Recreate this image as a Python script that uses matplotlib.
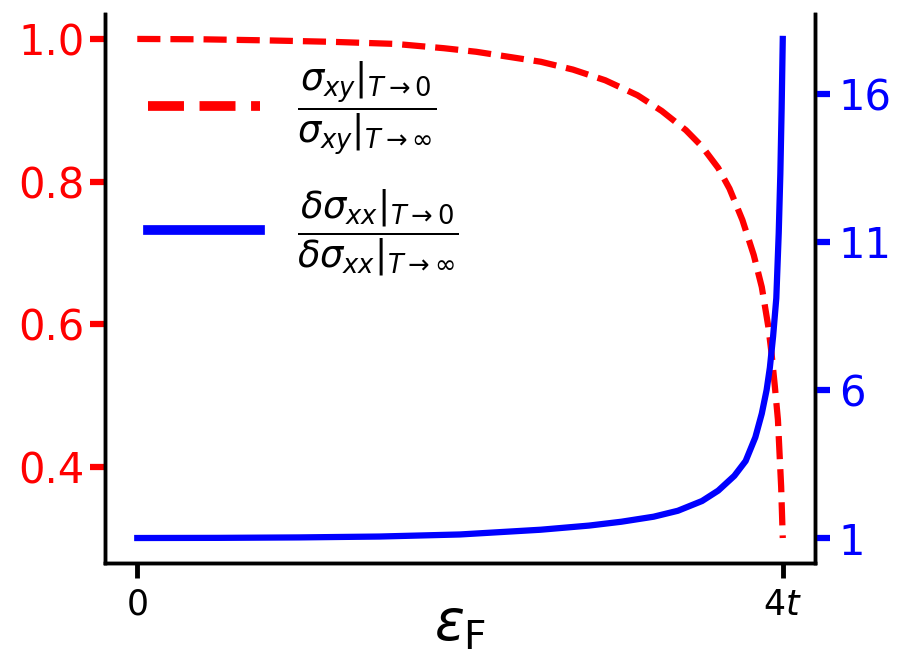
import matplotlib
matplotlib.use("Agg")
from matplotlib import pyplot as plt

# red curve: sigma_xy ratio (left axis)
eps_xy = [0.0, 0.4, 0.8, 1.2, 1.6, 1.9, 2.1, 2.3, 2.5, 2.7, 2.9, 3.1, 3.25,
          3.4, 3.5, 3.6, 3.67, 3.75, 3.82, 3.87, 3.91, 3.93, 3.95, 3.97,
          3.99, 4.0]
ratio_xy = [1.0, 0.9995, 0.998, 0.996, 0.993, 0.987, 0.982, 0.975, 0.968,
            0.957, 0.942, 0.921, 0.899, 0.872, 0.849, 0.819, 0.790, 0.746,
            0.697, 0.652, 0.597, 0.560, 0.515, 0.466, 0.372, 0.30]

# blue curve: delta sigma_xx ratio (right axis)
eps_xx = [0.0, 0.5, 1.0, 1.5, 2.0, 2.5, 2.8, 3.0, 3.2, 3.35, 3.5, 3.6, 3.7,
          3.77, 3.83, 3.87, 3.9, 3.92, 3.94, 3.96, 3.975, 3.985, 3.993, 4.0]
ratio_xx = [1.0, 1.005, 1.02, 1.05, 1.12, 1.28, 1.42, 1.55, 1.72, 1.92, 2.25,
            2.6, 3.1, 3.6, 4.4, 5.2, 6.0, 6.75, 7.8, 9.1, 11.3, 13.3, 15.5,
            17.85]

left_ticks = [0.4, 0.6, 0.8, 1.0]
right_ticks = [1, 6, 11, 16]
x_ticks = [0, 4]
x_ticklabels = ["0", r"$4t$"]

label_xy = r"$\dfrac{\sigma_{xy}|_{T\to 0}}{\sigma_{xy}|_{T\to\infty}}$"
label_xx = r"$\dfrac{\delta\sigma_{xx}|_{T\to 0}}{\delta\sigma_{xx}|_{T\to\infty}}$"


def main():
    fig = plt.figure(figsize=(9.06, 6.66), dpi=100)
    ax = fig.add_axes([0.1159, 0.1547, 0.7837, 0.8243])
    ax2 = ax.twinx()

    l1, = ax.plot(eps_xy, ratio_xy, "--", color="red", lw=4.5, label=label_xy)
    l2, = ax2.plot(eps_xx, ratio_xx, "-", color="blue", lw=4.5, label=label_xx)

    for a in (ax, ax2):
        a.spines["top"].set_visible(False)
        for s in ("left", "right", "bottom"):
            a.spines[s].set_linewidth(2.5)

    ax.set_yticks(left_ticks)
    ax.set_yticklabels([f"{t:.1f}" for t in left_ticks])
    ax.tick_params(axis="y", colors="red", labelsize=30, length=11, width=4.5)
    ax2.set_yticks(right_ticks)
    ax2.tick_params(axis="y", colors="blue", labelsize=30, length=11, width=4.5,
                    pad=6)

    ax.set_xticks(x_ticks)
    ax.set_xticklabels(x_ticklabels)
    ax.tick_params(axis="x", labelsize=25, length=11, width=3.5, pad=7)
    ax.set_xlabel(r"$\varepsilon_{\rm F}$", fontsize=40, labelpad=-17)

    leg = ax.legend(handles=[l1, l2], loc="upper left", frameon=False,
                    fontsize=26.5, handlelength=3.05, handletextpad=1.0,
                    labelspacing=0.8, borderpad=0.3, borderaxespad=0,
                    bbox_to_anchor=(0.045, 0.937))
    for h in leg.legend_handles:
        h.set_linewidth(7)

    fig.savefig("out.png", dpi=100)


if __name__ == "__main__":
    main()
